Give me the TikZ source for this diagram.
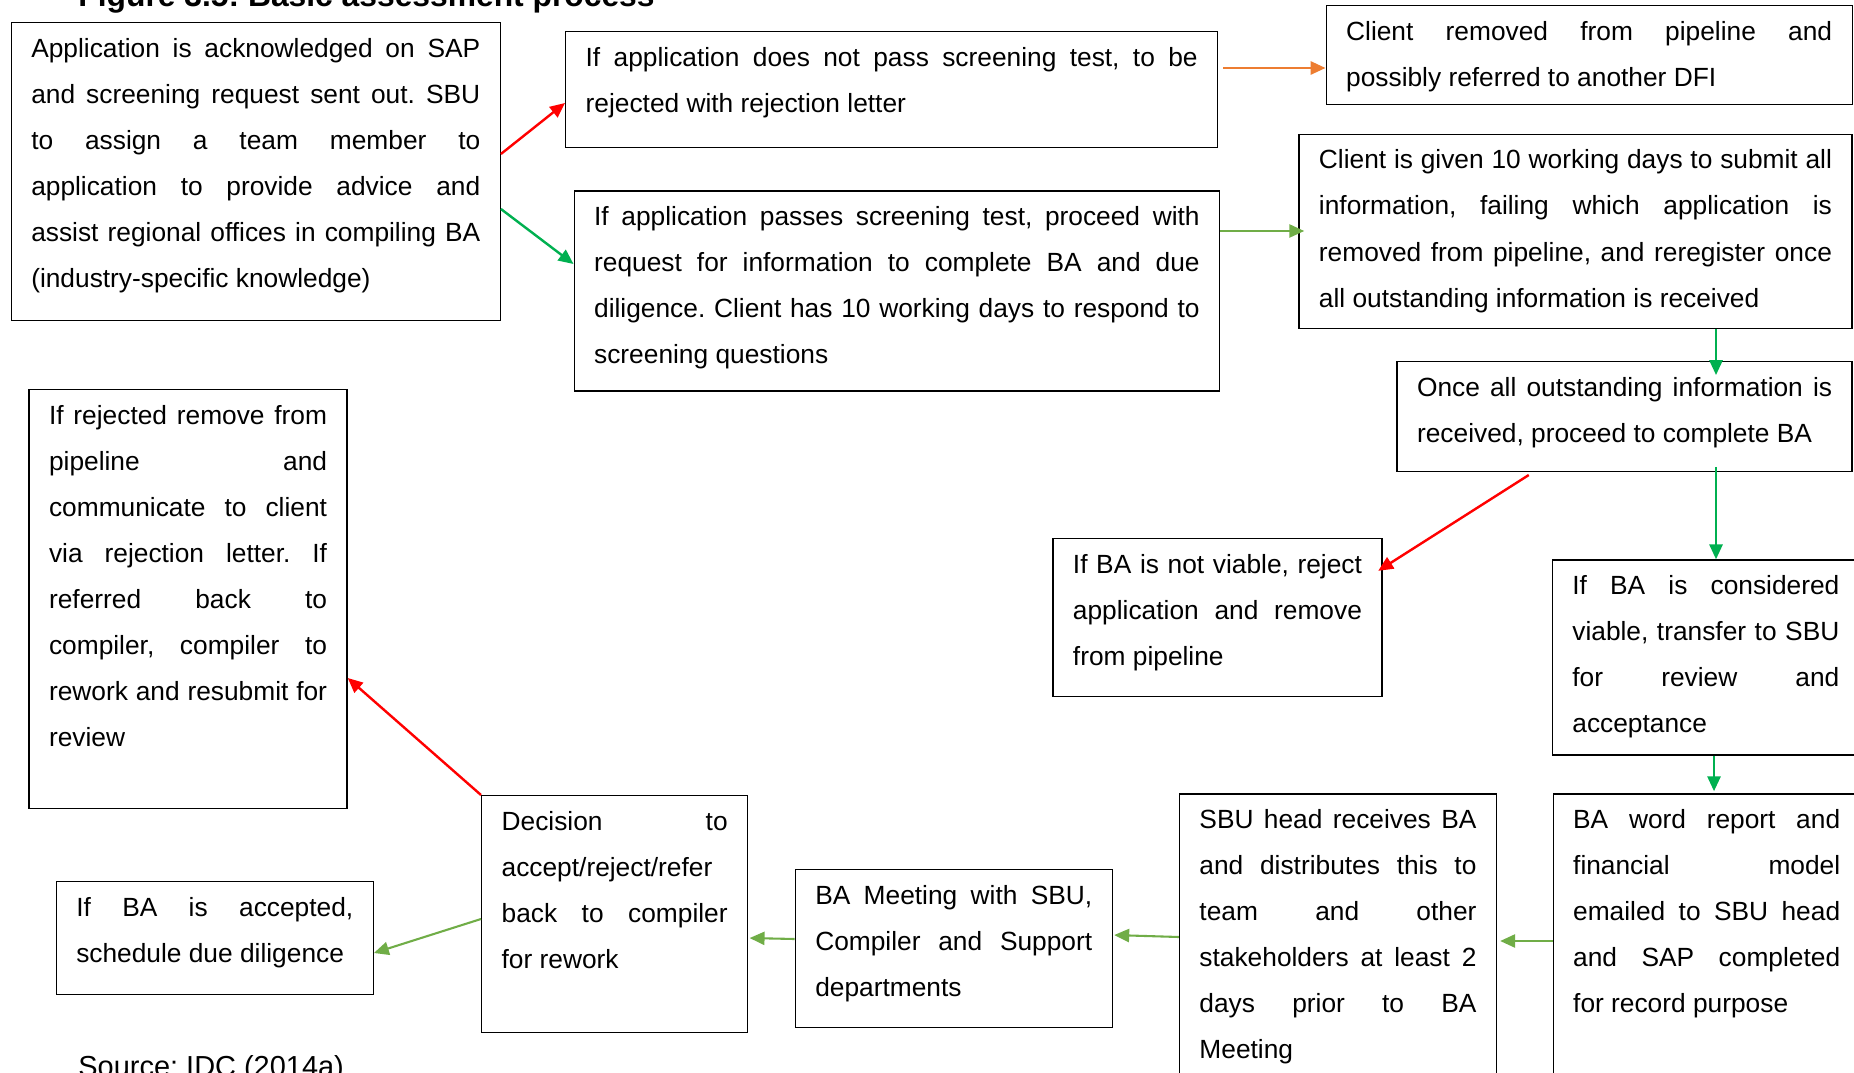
\documentclass[tikz,border=0pt]{standalone}
\usepackage{fontspec}
\setmainfont{Liberation Sans}
\usepackage{tikz}
\usepackage{xcolor}
\usetikzlibrary{
    arrows.meta,
    calc,
    positioning
}
\definecolor{rejectred}{HTML}{FF0000}
\definecolor{passgreen}{HTML}{00B050}
\definecolor{flowgreen}{HTML}{70AD47}
\definecolor{referorange}{HTML}{ED7D31}
\newlength{\px}
\setlength{\px}{0.456pt}
\newcommand{\stagetext}[3]{\parbox[t][#2\px][t]{#1\px}{\rule{0pt}{15.8pt}#3}}
\tolerance=10000
\hbadness=10000
\hyphenpenalty=10000
\frenchspacing

\begin{document}
\begin{tikzpicture}[x=0.456pt, y=-0.456pt,
    stage/.style={draw, line width=0.6pt, anchor=north west, inner xsep=9.12pt, inner ysep=0pt,
        font=\fontsize{12}{21}\selectfont},
    link/.style={line width=1.1pt, -{Triangle[length=6.8pt, width=6pt]}},
    flow/.style={line width=0.95pt, flowgreen, -{Triangle[length=6.8pt, width=6pt]}}
    ]
                        \useasboundingbox (0,0) rectangle (1854,1073);
                        \clip (0,0) rectangle (1854,1073);
                        \node[anchor=base west, inner sep=0pt, font=\fontsize{14.5}{17}\selectfont\bfseries] (title) at (78,7)
                        {Figure 3.5: Basic assessment process};
                        \node[anchor=base west, inner sep=0pt, font=\fontsize{13.2}{16}\selectfont] (source) at (78,1076)
                        {Source: IDC (2014a)};
                        \node[stage] (ack) at (10.6,22) {\stagetext{449}{298}{Application is acknowledged on SAP\linebreak
                        and screening request sent out. SBU\linebreak to assign a team member to\linebreak
                        application to provide advice and\linebreak assist regional offices in compiling BA\linebreak
                        (industry-specific knowledge)}};
                        \node[stage] (reject) at (565,30.7) {\stagetext{612}{116}{If application does not pass screening test, to be\linebreak
                        rejected with rejection letter}};
                        \node[stage] (removed) at (1325.5,4.7) {\stagetext{486}{99}{Client removed from pipeline and\linebreak
                        possibly referred to another DFI}};
                        \node[stage] (passes) at (573.5,190.4) {\stagetext{605.5}{200}{If application passes screening test, proceed with\linebreak
                        request for information to complete BA and due\linebreak diligence. Client has 10 working days to respond to\linebreak
                        screening questions}};
                        \node[stage] (givendays) at (1298.3,133.6) {\stagetext{513}{194}{Client is given 10 working days to submit all\linebreak
                        information, failing which application is\linebreak removed from pipeline, and reregister once\linebreak
                        all outstanding information is received}};
                        \node[stage] (once) at (1396.4,361) {\stagetext{415}{110}{Once all outstanding information is\linebreak
                        received, proceed to complete BA}};
                        \node[stage] (notviable) at (1052.3,538) {\stagetext{289}{158}{If BA is not viable, reject\linebreak
                        application and remove\linebreak from pipeline}};
                        \node[stage] (viable) at (1551.7,559.3) {\stagetext{267}{195}{If BA is considered\linebreak
                        viable, transfer to SBU\linebreak for review and\linebreak acceptance}};
                        \node[stage] (report) at (1552.5,793.4) {\stagetext{267}{300}{BA word report and\linebreak
                        financial model\linebreak emailed to SBU head\linebreak and SAP completed\linebreak for record purpose}};
                        \node[stage] (distribute) at (1178.8,793.4) {\stagetext{277}{300}{SBU head receives BA\linebreak
                        and distributes this to\linebreak team and other\linebreak stakeholders at least 2\linebreak
                        days prior to BA\linebreak Meeting}};
                        \node[stage] (meeting) at (794.6,868.7) {\stagetext{277}{158}{BA Meeting with SBU,\linebreak
                        Compiler and Support\linebreak departments}};
                        \node[stage] (decision) at (481,795) {\stagetext{226}{237}{Decision to\linebreak
                        accept/reject/refer\linebreak back to compiler\linebreak for rework}};
                        \node[stage] (accepted) at (55.6,881) {\stagetext{277}{113}{If BA is accepted,\linebreak
                        schedule due diligence}};
                        \node[stage] (rejected) at (28.4,389) {\stagetext{278}{419}{If rejected remove from\linebreak
                        pipeline and\linebreak communicate to client\linebreak via rejection letter. If\linebreak
                        referred back to\linebreak compiler, compiler to\linebreak rework and resubmit for\linebreak review}};
                        \draw[link, rejectred] (ack.east |- 0,154) -- (reject.west |- 0,103);
                        \draw[link, passgreen] (ack.east |- 0,209) -- (passes.west |- 0,264);
                        \draw[link, referorange, shorten <=2.3pt] (reject.east |- 0,68) -- (removed.west |- 0,68);
                        \draw[flow, shorten >=-2.7pt] (passes.east |- 0,231) -- (givendays.west |- 0,231);
                        \draw[link, passgreen, shorten >=-6.4pt] (givendays.south -| 1716,0) -- (once.north -| 1716,0);
                        \draw[link, rejectred, shorten <=2.3pt, shorten >=-2.4pt] (once.south -| 1533,0) -- (notviable.east |- 0,568);
                        \draw[link, passgreen, shorten <=-2.5pt] (once.south -| 1716,0) -- (viable.north -| 1716,0);
                        \draw[link, passgreen, shorten >=1pt] (viable.south -| 1714,0) -- (report.north -| 1714,0);
                        \draw[flow, shorten >=1.4pt] (report.west |- 0,941) -- (distribute.east |- 0,941);
                        \draw[flow, shorten >=0.6pt] (distribute.west |- 0,937) -- (meeting.east |- 0,935);
                        \draw[flow, shorten >=0.6pt] (meeting.west |- 0,939) -- (decision.east |- 0,938);
                        \draw[flow] (decision.west |- 0,919) -- (accepted.east |- 0,953);
                        \draw[link, rejectred] (decision.north west) -- (rejected.east |- 0,678);
                    \end{tikzpicture}
\end{document}
